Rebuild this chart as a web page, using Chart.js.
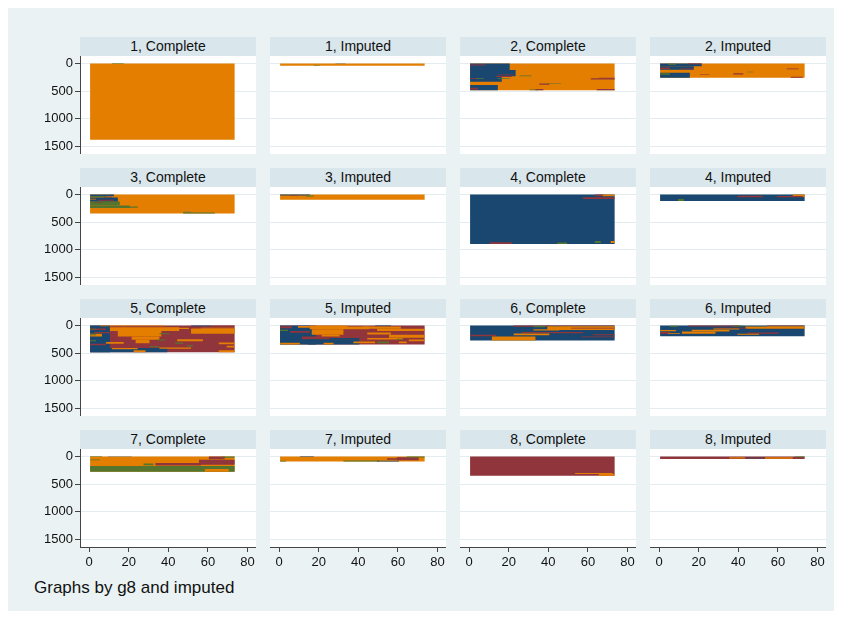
<!DOCTYPE html>
<html>
<head>
<meta charset="utf-8">
<script src="https://cdn.jsdelivr.net/npm/chart.js@4.4.1/dist/chart.umd.min.js"></script>
<style>
  html, body { margin: 0; padding: 0; background: #ffffff; }
  body { width: 842px; height: 619px; position: relative; overflow: hidden;
         font-family: "Liberation Sans", Arial, sans-serif; }
  #frame { position: absolute; left: 8px; top: 8px; width: 826px; height: 603px; background: #eaf2f3; }
  .strip { position: absolute; height: 19px; line-height: 19px; background: #d9e6eb;
           text-align: center; font-size: 14px; color: #111; white-space: nowrap; }
  .panel { position: absolute; }
  #note { position: absolute; left: 34px; top: 579px; font-size: 17px; line-height: 17px; color: #111; }
</style>
</head>
<body>
<div id="frame"></div>
<div id="note">Graphs by g8 and imputed</div>
<script>
// States of the monthly sequences and their colours
const stateColors = { n: '#1a476f', m: '#90353b', g: '#55752f', o: '#e37e00' };

// Panel labels: group g8 by imputation status
const groups = [1, 2, 3, 4, 5, 6, 7, 8];
const imputedLabels = ['Complete', 'Imputed'];

// Axis ticks
const yTicks = [0, 500, 1000, 1500];
const xTicks = [0, 20, 40, 60, 80];

// Sequence blocks: [state, first month, last month, first sequence, last sequence]
// Later blocks are painted over earlier ones.
const seq1Complete = [
  ['o', 1, 73, 1, 1380], ['g', 12, 17, 1, 8]
];
const seq1Imputed = [
  ['o', 1, 73, 1, 40], ['n', 29, 33, 1, 5], ['g', 18, 20, 34, 40]
];
const seq2Complete = [
  ['o', 1, 73, 1, 485], ['n', 1, 20, 1, 120], ['n', 1, 23, 120, 230], ['n', 1, 16, 230, 330],
  ['n', 1, 14, 390, 485], ['m', 1, 8, 20, 35], ['m', 15, 22, 200, 212], ['m', 14, 21, 230, 245],
  ['g', 15, 20, 262, 275], ['g', 26, 31, 220, 232], ['m', 1, 4, 262, 275], ['g', 4, 7, 262, 275],
  ['m', 1, 4, 440, 470], ['m', 62, 73, 270, 290], ['m', 66, 73, 258, 270], ['m', 36, 40, 365, 385],
  ['g', 40, 46, 358, 366], ['m', 34, 37, 465, 485], ['g', 31, 34, 470, 485], ['m', 65, 73, 462, 485]
];
const seq2Imputed = [
  ['o', 1, 73, 1, 260], ['n', 1, 21, 1, 50], ['n', 1, 17, 50, 115], ['n', 1, 15, 170, 260],
  ['g', 5, 8, 5, 25], ['m', 15, 21, 1, 12], ['m', 1, 5, 75, 100], ['m', 11, 17, 90, 105],
  ['g', 1, 5, 180, 205], ['m', 21, 25, 200, 210], ['m', 38, 42, 180, 198], ['g', 45, 47, 150, 160],
  ['m', 65, 70, 90, 105], ['m', 67, 72, 242, 260]
];
const seq3Complete = [
  ['o', 1, 73, 1, 345], ['n', 1, 12, 1, 30], ['g', 1, 8, 30, 50], ['m', 8, 11, 40, 55],
  ['n', 1, 14, 55, 130], ['o', 1, 3, 80, 92], ['m', 5, 12, 95, 115], ['g', 1, 15, 130, 200],
  ['m', 3, 6, 140, 150], ['g', 1, 20, 200, 245], ['g', 8, 24, 220, 240],
  ['g', 48, 63, 328, 345], ['g', 48, 51, 315, 328]
];
const seq3Imputed = [
  ['o', 1, 73, 1, 95], ['n', 1, 15, 1, 18], ['m', 6, 9, 10, 18], ['g', 14, 17, 18, 35]
];
const seq4Complete = [
  ['n', 1, 73, 1, 895], ['m', 64, 68, 1, 30], ['o', 68, 73, 1, 30], ['m', 58, 73, 50, 80],
  ['m', 11, 21, 865, 895], ['g', 45, 49, 870, 895], ['g', 64, 66, 845, 880], ['o', 72, 73, 845, 880]
];
const seq4Imputed = [
  ['n', 1, 73, 1, 120], ['o', 68, 73, 1, 45], ['m', 40, 52, 25, 50], ['m', 60, 72, 30, 50],
  ['g', 10, 12, 85, 120]
];
const seq5Complete = [
  ['m', 1, 73, 1, 485], ['n', 1, 10, 1, 485], ['n', 1, 39, 410, 485],
  ['o', 6, 18, 1, 15], ['o', 18, 38, 1, 15], ['o', 11, 45, 35, 100], ['o', 15, 36, 100, 200],
  ['o', 22, 35, 200, 260], ['o', 24, 30, 260, 320], ['m', 1, 8, 55, 80], ['m', 3, 11, 120, 140],
  ['o', 1, 6, 150, 200], ['m', 11, 17, 260, 310], ['m', 1, 8, 330, 360], ['o', 9, 17, 300, 330],
  ['o', 12, 24, 410, 430], ['o', 23, 28, 450, 485], ['o', 40, 50, 40, 65], ['o', 52, 73, 55, 150],
  ['o', 57, 73, 40, 55], ['n', 52, 61, 1, 15], ['m', 62, 73, 1, 15], ['o', 45, 57, 250, 285],
  ['o', 66, 73, 310, 340], ['o', 70, 73, 370, 400], ['o', 66, 73, 450, 485], ['o', 36, 51, 400, 420],
  ['g', 1, 3, 60, 75], ['g', 1, 3, 160, 175], ['g', 1, 3, 270, 285], ['g', 36, 40, 140, 160],
  ['g', 35, 38, 255, 270], ['g', 44, 47, 310, 330], ['g', 50, 52, 360, 380], ['g', 31, 35, 375, 395]
];
const seq5Imputed = [
  ['m', 1, 73, 1, 345], ['n', 1, 18, 1, 345], ['o', 10, 15, 10, 40], ['o', 16, 34, 1, 60],
  ['o', 16, 45, 20, 70], ['o', 17, 32, 70, 170], ['o', 22, 30, 170, 220], ['m', 1, 6, 15, 50],
  ['g', 1, 4, 80, 100], ['m', 6, 15, 100, 130], ['m', 12, 30, 200, 250], ['n', 15, 40, 250, 345],
  ['n', 26, 40, 230, 250], ['o', 1, 10, 315, 345], ['o', 23, 27, 315, 345], ['n', 49, 56, 1, 12],
  ['o', 43, 61, 20, 60], ['o', 50, 73, 60, 100], ['o', 45, 56, 130, 165], ['o', 56, 73, 170, 220],
  ['o', 45, 62, 230, 255], ['o', 66, 73, 256, 285], ['o', 38, 48, 290, 320], ['o', 61, 64, 290, 320],
  ['g', 50, 55, 290, 320], ['g', 60, 62, 240, 260]
];
const seq6Complete = [
  ['n', 1, 73, 1, 270], ['m', 23, 40, 1, 25], ['g', 33, 38, 10, 30], ['m', 40, 73, 1, 10],
  ['o', 47, 73, 10, 15], ['o', 40, 73, 15, 80], ['m', 52, 73, 40, 55], ['o', 33, 45, 70, 90],
  ['m', 27, 57, 120, 140], ['o', 23, 40, 145, 175], ['m', 1, 13, 170, 195], ['o', 12, 33, 200, 270],
  ['m', 57, 73, 200, 215], ['m', 63, 73, 160, 175]
];
const seq6Imputed = [
  ['n', 1, 73, 1, 195], ['m', 15, 40, 1, 20], ['g', 6, 9, 5, 25], ['g', 38, 42, 1, 20],
  ['m', 55, 73, 1, 10], ['o', 55, 73, 10, 20], ['o', 44, 73, 20, 60], ['m', 28, 44, 40, 55],
  ['o', 28, 40, 55, 75], ['o', 17, 35, 80, 110], ['o', 12, 28, 110, 150], ['m', 45, 60, 130, 150],
  ['o', 40, 50, 150, 170], ['m', 1, 5, 120, 150], ['o', 1, 8, 85, 105], ['o', 5, 10, 140, 155]
];
const seq7Complete = [
  ['o', 1, 73, 1, 275], ['g', 1, 6, 1, 10], ['n', 10, 21, 1, 5], ['m', 61, 68, 1, 50],
  ['g', 68, 73, 1, 25], ['g', 1, 5, 55, 70], ['m', 56, 73, 60, 150], ['m', 34, 56, 120, 165],
  ['g', 28, 32, 130, 160], ['g', 1, 73, 172, 275], ['o', 59, 70, 230, 275]
];
const seq7Imputed = [
  ['o', 1, 73, 1, 90], ['n', 11, 17, 1, 8], ['g', 33, 50, 75, 90], ['n', 50, 60, 78, 90],
  ['m', 55, 62, 35, 60], ['m', 60, 70, 15, 70], ['g', 65, 73, 1, 18], ['g', 1, 3, 80, 90]
];
const seq8Complete = [
  ['m', 1, 73, 1, 350], ['o', 54, 72, 300, 318], ['o', 66, 73, 318, 350]
];
const seq8Imputed = [
  ['m', 1, 73, 1, 45], ['o', 36, 43, 15, 35], ['n', 44, 53, 22, 30], ['o', 54, 67, 15, 40],
  ['g', 69, 73, 1, 15]
];

const panelBlocks = [
  seq1Complete, seq1Imputed, seq2Complete, seq2Imputed,
  seq3Complete, seq3Imputed, seq4Complete, seq4Imputed,
  seq5Complete, seq5Imputed, seq6Complete, seq6Imputed,
  seq7Complete, seq7Imputed, seq8Complete, seq8Imputed
];

// Layout of the 4 x 4 grid
const stripTops = [37, 168, 299, 430];
const colLefts = [80, 270, 460, 650];
const plotW = 176, plotH = 98, stripH = 19, yAxisW = 80, xAxisH = 30;
const fontFamily = '"Liberation Sans", Arial, sans-serif';
const axisColor = '#444444';

const plotBackground = {
  id: 'plotBackground',
  beforeDraw(chart) {
    const { ctx, chartArea: a } = chart;
    ctx.save();
    ctx.fillStyle = '#ffffff';
    ctx.fillRect(a.left, a.top, a.right - a.left, a.bottom - a.top);
    ctx.restore();
  }
};

// Axes keep a fixed size and reserve no extra room for end labels
function fixScale(s, size, horizontal) {
  if (horizontal) s.height = size; else s.width = size;
  s.paddingTop = 0; s.paddingBottom = 0; s.paddingLeft = 0; s.paddingRight = 0;
}

function blockDatasets(blocks) {
  return blocks.map((b, i) => {
    const [state, m0, m1, s0, s1] = b;
    return {
      data: [
        { x: m0 - 0.5, y: s0 - 0.5 }, { x: m1 + 0.5, y: s0 - 0.5 },
        { x: m1 + 0.5, y: s1 + 0.5 }, { x: m0 - 0.5, y: s1 + 0.5 }
      ],
      showLine: true,
      fill: 'shape',
      backgroundColor: stateColors[state],
      borderColor: 'rgba(0,0,0,0)',
      borderWidth: 0,
      pointRadius: 0,
      pointHoverRadius: 0,
      tension: 0,
      order: blocks.length - i
    };
  });
}

panelBlocks.forEach((blocks, p) => {
  const row = Math.floor(p / 4), col = p % 4;
  const g = groups[Math.floor(p / 2)];
  const label = g + ', ' + imputedLabels[p % 2];
  const plotLeft = colLefts[col];
  const plotTop = stripTops[row] + stripH;

  const strip = document.createElement('div');
  strip.className = 'strip';
  strip.style.left = plotLeft + 'px';
  strip.style.top = stripTops[row] + 'px';
  strip.style.width = plotW + 'px';
  strip.textContent = label;
  document.body.appendChild(strip);

  const hasY = col === 0, hasX = row === 3;
  const canvas = document.createElement('canvas');
  canvas.className = 'panel';
  const cw = plotW + (hasY ? yAxisW : 0);
  const ch = plotH + (hasX ? xAxisH : 0);
  canvas.width = cw; canvas.height = ch;
  canvas.style.width = cw + 'px'; canvas.style.height = ch + 'px';
  canvas.style.left = (plotLeft - (hasY ? yAxisW : 0)) + 'px';
  canvas.style.top = plotTop + 'px';
  document.body.appendChild(canvas);

  new Chart(canvas, {
    type: 'scatter',
    data: { datasets: blockDatasets(blocks) },
    options: {
      responsive: false,
      animation: false,
      events: [],
      devicePixelRatio: 1,
      layout: { padding: 0, autoPadding: false },
      plugins: { legend: { display: false }, tooltip: { enabled: false }, title: { display: false } },
      scales: {
        x: {
          type: 'linear', min: -4.6, max: 84.3, display: hasX,
          afterBuildTicks: s => { s.ticks = xTicks.map(v => ({ value: v })); },
          afterFit: s => fixScale(s, hasX ? xAxisH : 0, true),
          grid: { drawOnChartArea: false, drawTicks: true, tickLength: 5, tickColor: axisColor, tickWidth: 1 },
          border: { display: true, color: axisColor, width: 1 },
          ticks: { font: { family: fontFamily, size: 13 }, color: '#111', padding: 3, maxRotation: 0,
                   autoSkip: false, callback: v => String(v) }
        },
        y: {
          type: 'linear', reverse: true, min: -135, max: 1640, display: true,
          afterBuildTicks: s => { s.ticks = yTicks.map(v => ({ value: v })); },
          afterFit: s => fixScale(s, hasY ? yAxisW : 0, false),
          grid: { color: '#e3ecef', lineWidth: 1, drawTicks: hasY, tickLength: 5, tickColor: axisColor, tickWidth: 1 },
          border: { display: hasY, color: axisColor, width: 1 },
          ticks: { display: hasY, font: { family: fontFamily, size: 13 }, color: '#111', padding: 2,
                   autoSkip: false, callback: v => String(v) }
        }
      }
    },
    plugins: [plotBackground]
  });
});
</script>
</body>
</html>
